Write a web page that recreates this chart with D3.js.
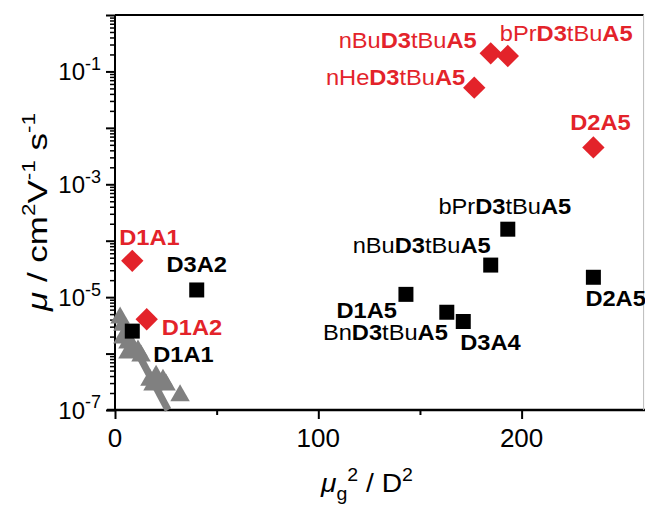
<!DOCTYPE html>
<html>
<head>
<meta charset="utf-8">
<script src="https://cdn.jsdelivr.net/npm/d3@7"></script>
<style>
  body { margin: 0; background: #fff; }
  svg { display: block; }
  text { font-family: "Liberation Sans", Arial, Helvetica, sans-serif; }
</style>
</head>
<body>
<svg id="chart" width="645" height="506"></svg>
<script>
// Charge-carrier mobility against squared ground-state dipole moment.

// Black squares (first series)
const squareNames = ["D1A1", "D3A2", "D1A5", "BnD3tBuA5", "D3A4", "nBuD3tBuA5", "bPrD3tBuA5", "D2A5"];
const squareX = [8.5, 40.2, 143.1, 163.2, 171.3, 184.8, 193.2, 235.3];
const squareY = [2.5e-6, 1.34e-5, 1.12e-5, 5.4e-6, 3.7e-6, 3.7e-5, 1.6e-4, 2.25e-5];

// Red diamonds (second series)
const diamondNames = ["D1A1", "D1A2", "nHeD3tBuA5", "nBuD3tBuA5", "bPrD3tBuA5", "D2A5"];
const diamondX = [8.5, 15.6, 176.7, 184.8, 193.2, 235.3];
const diamondY = [4.4e-5, 4.05e-6, 0.0515, 0.209, 0.1875, 0.0045];

// Grey triangles (reference compounds) and their trend line
const triX = [2.5, 3.9, 3.9, 6.4, 8.9, 6.4, 11.3, 12.8, 17.2, 20.2, 23.6, 25.1, 18.7, 32.0];
const triY = [4.3e-6, 3.2e-6, 1.9e-6, 1.55e-6, 1.26e-6, 1.03e-6, 1.12e-6, 9.1e-7,
              3.4e-7, 4.0e-7, 3.4e-7, 2.8e-7, 2.8e-7, 1.8e-7];
const trendX = [2.0, 26.1];
const trendY = [4.3e-6, 1e-7];

// Axis ticks
const xMajorTicks = [0, 100, 200];
const xMinorTicks = [50, 150];
const yLabelExponents = [-7, -5, -3, -1];

// Label placement relative to each marker: [anchor, dx, dy]
const squareLabelPos = [
  ["start", 21, 31], ["middle", 0, -18], ["end", -9, 24], ["end", 1, 28],
  ["start", -3, 28], ["end", 0, -12], ["middle", -3, -15], ["start", -8, 29]
];
const diamondLabelPos = [
  ["start", -13, -16], ["start", 15, 16], ["end", -9, -3],
  ["end", -14, -5], ["start", -8, -15], ["middle", 7, -17]
];

const RED = "#e3232a";
const GREY = "#808080";

const svg = d3.select("#chart");
const plotLeft = 115, plotRight = 643.6, plotTop = 15, plotBottom = 410;

const x = d3.scaleLinear().domain([0, 260]).range([plotLeft, plotRight]);
const y = d3.scaleLog().domain([1e-7, 1]).range([plotBottom, plotTop]);

// Rich text helper: parts with bold / italic / superscript / subscript
function rich(textSel, parts, size, smallSize) {
  let shift = 0;
  parts.forEach(p => {
    const ts = textSel.append("tspan").text(p.t);
    let target = 0;
    if (p.sup) target = -size * 0.42;
    if (p.sub) target = size * 0.3;
    ts.attr("dy", target - shift);
    shift = target;
    ts.attr("font-size", (p.sup || p.sub) ? smallSize : size);
    if (p.b) ts.attr("font-weight", "bold");
    if (p.i) ts.attr("font-style", "italic");
  });
}

function nameParts(name) {
  return name.split(/([DA]\d)/).filter(s => s.length).map(s => ({ t: s, b: /^[DA]\d$/.test(s) }));
}

// ---- axes ----
const yMajor = d3.range(-7, 1).map(e => Math.pow(10, e));
const yMinor = [];
for (let e = -7; e < 0; e++) for (let m = 2; m <= 9; m++) yMinor.push(m * Math.pow(10, e));

const axisStyle = g => {
  g.select(".domain").remove();
  g.selectAll(".tick line").attr("stroke", "#000");
  g.selectAll(".tick text").remove();
};

svg.append("g").attr("transform", `translate(${plotLeft},0)`)
  .call(d3.axisLeft(y).tickValues(yMinor).tickSize(5)).call(axisStyle)
  .selectAll(".tick line").attr("stroke-width", 1.5);
svg.append("g").attr("transform", `translate(${plotLeft},0)`)
  .call(d3.axisLeft(y).tickValues(yMajor).tickSize(9)).call(axisStyle)
  .selectAll(".tick line").attr("stroke-width", 2);

svg.append("g").attr("transform", `translate(0,${plotBottom})`)
  .call(d3.axisBottom(x).tickValues(xMinorTicks).tickSize(5)).call(axisStyle)
  .selectAll(".tick line").attr("stroke-width", 2);
svg.append("g").attr("transform", `translate(0,${plotBottom})`)
  .call(d3.axisBottom(x).tickValues(xMajorTicks).tickSize(9)).call(axisStyle)
  .selectAll(".tick line").attr("stroke-width", 2);

// frame
svg.append("line").attr("x1", plotLeft).attr("x2", plotLeft).attr("y1", plotTop).attr("y2", plotBottom + 1)
  .attr("stroke", "#000").attr("stroke-width", 2);
svg.append("line").attr("x1", plotLeft - 8).attr("x2", 645).attr("y1", plotBottom).attr("y2", plotBottom)
  .attr("stroke", "#000").attr("stroke-width", 2.5);
svg.append("line").attr("x1", plotLeft).attr("x2", plotRight).attr("y1", plotTop).attr("y2", plotTop)
  .attr("stroke", "#000").attr("stroke-width", 2);
svg.append("line").attr("x1", plotRight).attr("x2", plotRight).attr("y1", plotTop).attr("y2", plotBottom)
  .attr("stroke", "#bbb").attr("stroke-width", 1);

// x tick labels
xMajorTicks.forEach(v => {
  svg.append("text").attr("x", x(v)).attr("y", 447).attr("text-anchor", "middle")
    .attr("font-size", 26).attr("fill", "#000").text(v);
});

// y tick labels 10^n
yLabelExponents.forEach(e => {
  const t = svg.append("text").attr("x", 101).attr("y", y(Math.pow(10, e)) + 8.5)
    .attr("text-anchor", "end").attr("fill", "#000");
  rich(t, [{ t: "10" }, { t: String(e), sup: true }], 24, 18);
});

// axis titles
{
  const g = svg.append("g").attr("transform", "translate(47,212) rotate(-90)");
  const t = g.append("text").attr("text-anchor", "middle").attr("fill", "#000");
  rich(t, [{ t: "μ", i: true }, { t: " / cm" }, { t: "2", sup: true }, { t: "V" },
           { t: "-1", sup: true }, { t: " s" }, { t: "-1", sup: true }], 28, 18);
  const w = t.node().getComputedTextLength();
  g.attr("transform", `translate(47,212) rotate(-90) scale(${198 / w},1)`);
}
{
  const g = svg.append("g").attr("transform", "translate(367,492)");
  const t = g.append("text").attr("text-anchor", "middle").attr("fill", "#000");
  rich(t, [{ t: "μ", i: true }, { t: "g", sub: true }, { t: "2", sup: true },
           { t: " / D" }, { t: "2", sup: true }], 26, 18);
  const w = t.node().getComputedTextLength();
  g.attr("transform", `translate(367,492) scale(${92 / w},1)`);
}

// ---- marks ----
svg.append("path")
  .datum(trendX.map((v, i) => [v, trendY[i]]))
  .attr("d", d3.line().x(d => x(d[0])).y(d => y(d[1])))
  .attr("stroke", GREY).attr("stroke-width", 7).attr("fill", "none");

const triSym = d3.symbol(d3.symbolTriangle).size(165)();
svg.append("g").selectAll("path").data(triX.map((v, i) => [v, triY[i]])).join("path")
  .attr("d", triSym).attr("fill", GREY)
  .attr("transform", d => `translate(${x(d[0])},${y(d[1])})`);

const sqSym = d3.symbol(d3.symbolSquare).size(225)();
svg.append("g").selectAll("path").data(squareX.map((v, i) => [v, squareY[i]])).join("path")
  .attr("d", sqSym).attr("fill", "#000")
  .attr("transform", d => `translate(${x(d[0])},${y(d[1])})`);

const diaSym = d3.symbol(d3.symbolSquare).size(250)();
svg.append("g").selectAll("path").data(diamondX.map((v, i) => [v, diamondY[i]])).join("path")
  .attr("d", diaSym).attr("fill", RED)
  .attr("transform", d => `translate(${x(d[0])},${y(d[1])}) rotate(45)`);

// ---- labels ----
function drawLabels(names, xs, ys, pos, color) {
  names.forEach((n, i) => {
    const [anchor, dx, dy] = pos[i];
    const g = svg.append("g")
      .attr("transform", `translate(${x(xs[i]) + dx},${y(ys[i]) + dy}) scale(1.1,1)`);
    const t = g.append("text").attr("text-anchor", anchor).attr("fill", color);
    rich(t, nameParts(n), 21.5, 15);
  });
}
drawLabels(squareNames, squareX, squareY, squareLabelPos, "#000");
drawLabels(diamondNames, diamondX, diamondY, diamondLabelPos, RED);
</script>
</body>
</html>
